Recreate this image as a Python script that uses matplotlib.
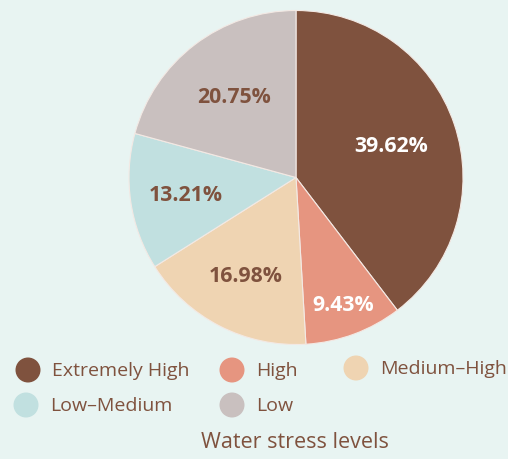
import numpy as np
import matplotlib.pyplot as plt
from matplotlib.patches import Circle

plt.rcParams['font.family'] = ['Open Sans', 'DejaVu Sans']

labels = ['Extremely High', 'High', 'Medium-High', 'Low-Medium', 'Low']
shares = [39.62, 9.43, 16.98, 13.21, 20.75]
colors = ['#7f523e', '#e69580', '#efd4b2', '#c1e0e0', '#c9c0bf']
pct_colors = ['white', 'white', '#7f523e', '#7f523e', '#7f523e']
pct_radius = [0.6, 0.81, 0.66, 0.67, 0.61]
title = 'Water stress levels'

bg = '#e8f4f2'
brown = '#7f523e'

W, H = 508, 460
fig = plt.figure(figsize=(W / 100, H / 100), dpi=100, facecolor=bg)

# pie axes: centre (296, 178.5) px, radius 167 px
cx, cy, r = 296, 178.5, 167
ax = fig.add_axes([(cx - r) / W, (H - cy - r) / H, 2 * r / W, 2 * r / H])
ax.set_facecolor(bg)
wedges, _ = ax.pie(
    shares, colors=colors, startangle=90, counterclock=False, radius=1,
    wedgeprops=dict(edgecolor='#f3e9e4', linewidth=0.8))

for w, val, rr, c in zip(wedges, shares, pct_radius, pct_colors):
    ang = np.deg2rad((w.theta1 + w.theta2) / 2)
    ax.text(rr * np.cos(ang), rr * np.sin(ang), f'{val:.2f}%',
            ha='center', va='center', color=c, fontsize=15.3, fontweight='bold')
ax.set_xlim(-1, 1)
ax.set_ylim(-1, 1)
ax.axis('off')

# legend drawn in pixel coordinates
lg = fig.add_axes([0, 0, 1, 1], zorder=-1)
lg.set_xlim(0, W)
lg.set_ylim(H, 0)
lg.axis('off')
leg_pos = [(28, 371), (232, 371), (356, 369), (26, 406), (232, 406)]
for (x, y), lab, col in zip(leg_pos, labels, colors):
    lg.add_patch(Circle((x, y), 12.5, color=col, lw=0))
    lg.text(x + 24, y, lab.replace('-', '\u2013'), ha='left', va='center',
            color=brown, fontsize=14)
lg.text(295, 443, title, ha='center', va='center', color=brown, fontsize=15.5)

fig.savefig('out.png', dpi=100, facecolor=bg)
